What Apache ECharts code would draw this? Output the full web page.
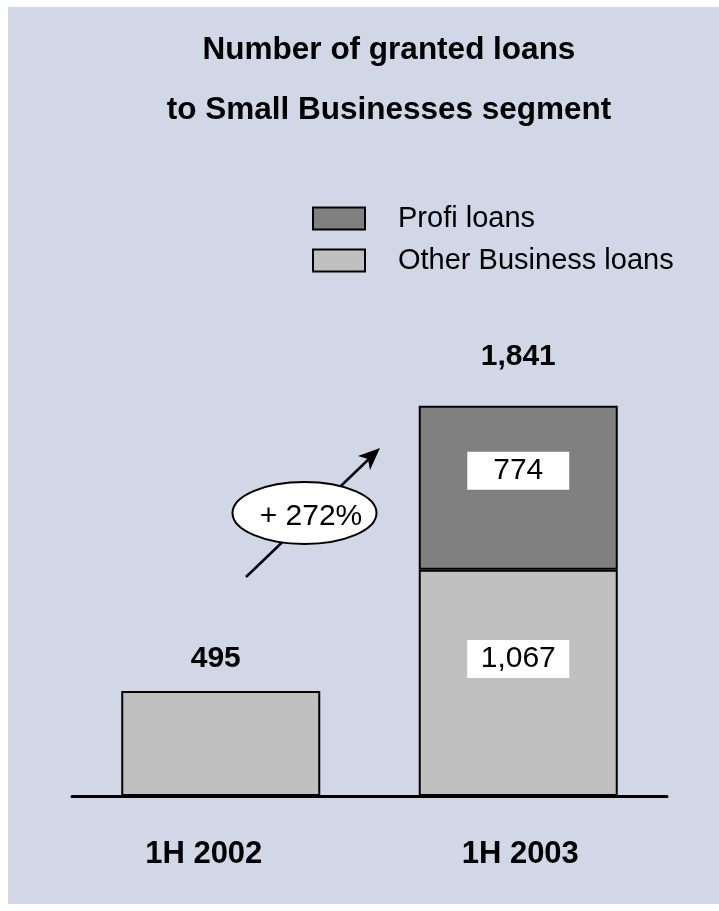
<!DOCTYPE html>
<html>
<head>
<meta charset="utf-8">
<script src="https://cdn.jsdelivr.net/npm/echarts@6/dist/echarts.min.js"></script>
<style>
  html, body { margin: 0; padding: 0; background: #fff; }
  #chart { width: 719px; height: 911px; }
</style>
</head>
<body>
<div id="chart"></div>
<script>
const periods = ['1H 2002', '1H 2003'];
const otherLoans = [495, 1067];
const profiLoans = ['-', 774];
const totals = [495, 1841];
const growthText = '+ 272%';

const FONT = 'Liberation Sans, Arial, sans-serif';

const chart = echarts.init(document.getElementById('chart'));

const option = {
  animation: false,
  textStyle: { fontFamily: FONT },
  title: {
    text: 'Number of granted loans\nto Small Businesses segment',
    left: 384,
    top: 15,
    textAlign: 'center',
    textStyle: { fontSize: 31.5, fontWeight: 'bold', color: '#000', lineHeight: 60, fontFamily: FONT }
  },
  legend: {
    orient: 'vertical',
    left: 312,
    top: 204,
    padding: 0,
    itemWidth: 52,
    itemHeight: 22,
    itemGap: 13,
    icon: 'rect',
    data: ['Profi loans', 'Other Business loans'],
    itemStyle: { borderColor: '#000', borderWidth: 2 },
    textStyle: { fontSize: 29, color: '#000', padding: [0, 0, 0, 28], fontFamily: FONT }
  },
  grid: { left: 72, right: 52, top: 372, bottom: 115 },
  xAxis: {
    type: 'category',
    data: periods,
    axisLine: { lineStyle: { color: '#000', width: 3 } },
    axisTick: { show: false },
    axisLabel: {
      margin: 43,
      formatter: (v, i) => (i === 0 ? '{a|' + v + '}' : '{b|' + v + '}'),
      rich: {
        a: { fontSize: 31, fontWeight: 'bold', color: '#000', padding: [0, 34, 0, 0], fontFamily: FONT },
        b: { fontSize: 31, fontWeight: 'bold', color: '#000', padding: [0, 0, 0, 4], fontFamily: FONT }
      }
    }
  },
  yAxis: { type: 'value', min: 0, max: 2000, show: false },
  series: [
    {
      name: 'Total',
      type: 'bar',
      barWidth: 199,
      barGap: '-100%',
      silent: true,
      itemStyle: { color: 'transparent' },
      z: 1,
      data: totals.map((v, i) => ({
        value: v,
        label: {
          show: true,
          position: 'top',
          distance: i === 0 ? 17 : 34,
          offset: i === 0 ? [-5, 0] : [0, 0],
          fontSize: 30,
          fontWeight: 'bold',
          color: '#000',
          formatter: (p) => p.value.toLocaleString('en-US')
        }
      }))
    },
    {
      name: 'Other Business loans',
      type: 'bar',
      stack: 'loans',
      barWidth: 199,
      z: 2,
      itemStyle: { color: '#C0C0C0', borderColor: '#000', borderWidth: 2 },
      data: otherLoans.map((v, i) => ({
        value: v,
        label: {
          show: i === 1,
          position: 'inside',
          offset: [0, -24],
          fontSize: 30,
          color: '#000',
          backgroundColor: '#fff',
          width: 102,
          align: 'center',
          padding: [4, 0],
          formatter: (p) => p.value.toLocaleString('en-US')
        }
      }))
    },
    {
      name: 'Profi loans',
      type: 'bar',
      stack: 'loans',
      barWidth: 199,
      z: 2,
      itemStyle: { color: '#808080', borderColor: '#000', borderWidth: 2 },
      data: profiLoans.map((v) => ({
        value: v,
        label: {
          show: v !== '-',
          position: 'inside',
          offset: [0, -17],
          fontSize: 30,
          color: '#000',
          backgroundColor: '#fff',
          width: 102,
          align: 'center',
          padding: [4, 0],
          formatter: (p) => p.value.toLocaleString('en-US')
        }
      }))
    }
  ],
  graphic: [
    { type: 'rect', z: -10, silent: true, shape: { x: 8, y: 7, width: 711, height: 897 }, style: { fill: '#D2D7E7' } },
    // growth arrow
    { type: 'line', z: 10, shape: { x1: 246, y1: 577, x2: 370, y2: 458 }, style: { stroke: '#000', lineWidth: 2.5 } },
    { type: 'polygon', z: 10, shape: { points: [[380, 448], [358, 456], [368, 459], [370, 470]] }, style: { fill: '#000' } },
    { type: 'ellipse', z: 11, shape: { cx: 304.5, cy: 513, rx: 72, ry: 31 }, style: { fill: '#fff', stroke: '#000', lineWidth: 2 } },
    { type: 'text', z: 12, x: 311, y: 517, style: { text: growthText, fontSize: 30, fill: '#000', align: 'center', verticalAlign: 'middle', fontFamily: FONT } }
  ]
};

chart.setOption(option);
</script>
</body>
</html>
